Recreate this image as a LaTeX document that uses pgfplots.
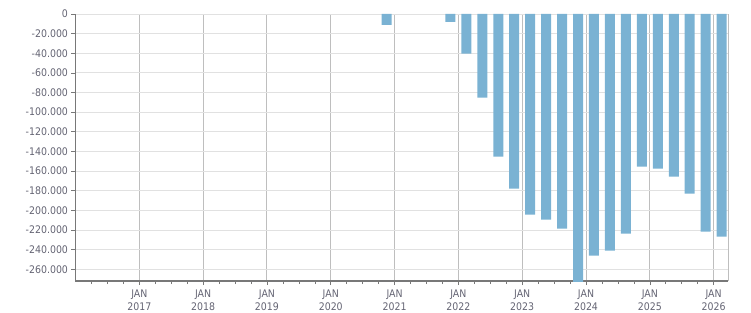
\documentclass[border=0pt]{standalone}
\usepackage{pgfplots}
\pgfplotsset{compat=1.18}
\usepackage{fontspec}
\setmainfont{DejaVu Sans Condensed}
\definecolor{barc}{RGB}{122,178,211}
\definecolor{gridh}{RGB}{225,225,225}
\definecolor{gridv}{RGB}{190,190,190}
\definecolor{axc}{RGB}{120,120,120}
\definecolor{txt}{RGB}{100,100,115}
\begin{document}
\begin{tikzpicture}
\useasboundingbox (-75.5bp,-32bp) rectangle (675.5bp,281bp);
\begin{axis}[
  at={(0,0)}, anchor=south west,
  scale only axis, width=652.5bp, height=267bp,
  xmin=0, xmax=122.7, ymin=-272000, ymax=0,
  scaled y ticks=false, scaled x ticks=false,
  axis x line*=bottom, axis y line*=left,
  x axis line style={draw=axc, line width=1.6pt, -},
  y axis line style={draw=axc, line width=0.8pt, -},
  xtick={12,24,36,48,60,72,84,96,108,120},
  xticklabels={{JAN\\2017},{JAN\\2018},{JAN\\2019},{JAN\\2020},{JAN\\2021},{JAN\\2022},{JAN\\2023},{JAN\\2024},{JAN\\2025},{JAN\\2026}},
  xticklabel style={align=center, text=txt, font=\fontsize{10.5}{13}\selectfont, yshift=-1bp},
  minor xtick={3,6,9,15,18,21,27,30,33,39,42,45,51,54,57,63,66,69,75,78,81,87,90,93,99,102,105,111,114,117},
  ytick={-260000,-240000,-220000,-200000,-180000,-160000,-140000,-120000,-100000,-80000,-60000,-40000,-20000,0},
  yticklabels={-260.000,-240.000,-220.000,-200.000,-180.000,-160.000,-140.000,-120.000,-100.000,-80.000,-60.000,-40.000,-20.000,0},
  yticklabel style={text=txt, font=\fontsize{10.5}{13}\selectfont},
  tick align=outside,
  major tick length=4bp, minor tick length=3bp,
  tick style={draw=axc, line width=0.6pt},
  xmajorgrids, ymajorgrids,
  x grid style={draw=gridv, line width=0.9pt},
  y grid style={draw=gridh, line width=0.9pt},
  extra x ticks={122.7}, extra x tick labels={},
  extra x tick style={grid style={draw=gridh, line width=0.9pt}, major tick length=0pt},
  clip=true,
]
\addplot[ybar, bar width=10bp, fill=barc, draw=none] coordinates {
(58.5,-11000) (70.5,-8000) (73.5,-40400) (76.5,-85200) (79.5,-145300)
(82.5,-177900) (85.5,-204400) (88.5,-209500) (91.5,-218600) (94.5,-275000)
(97.5,-246100) (100.5,-241000) (103.5,-223700) (106.5,-155500) (109.5,-157500)
(112.5,-165700) (115.5,-183000) (118.5,-221700) (121.5,-226800)
};
\end{axis}
\end{tikzpicture}
\end{document}
